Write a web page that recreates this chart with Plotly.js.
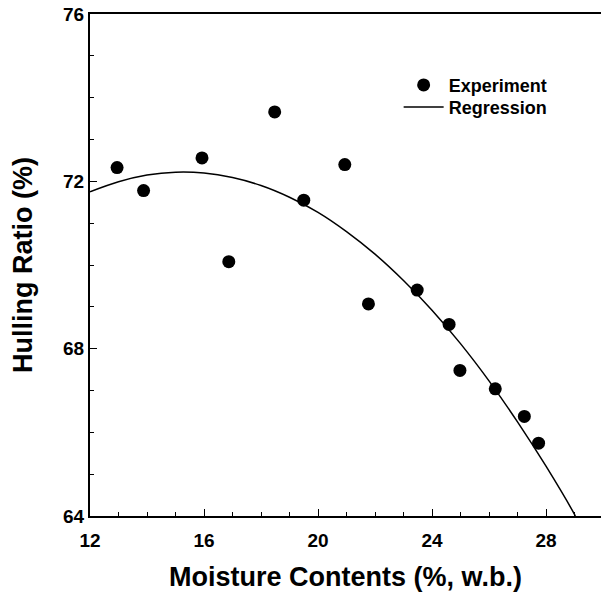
<!DOCTYPE html>
<html>
<head>
<meta charset="utf-8">
<script src="https://cdn.plot.ly/plotly-3.0.1.min.js"></script>
<style>html,body{margin:0;padding:0;background:#fff;}#chart{width:601px;height:599px;}</style>
</head>
<body>
<div id="chart"></div>
<script>
// Experiment points
var expX = [12.95, 13.88, 15.93, 16.87, 18.48, 19.50, 20.94, 21.77, 23.48, 24.60, 24.98, 26.22, 27.24, 27.74];
var expY = [72.33, 71.78, 72.56, 70.08, 73.66, 71.55, 72.40, 69.07, 69.40, 68.58, 67.48, 67.04, 66.38, 65.74];
// Regression curve
var regX = [12, 13, 14, 15, 16, 17, 18, 19, 20, 21, 22, 23, 24, 25, 26, 27, 28, 29, 29.03];
var regY = [71.75, 71.99, 72.15, 72.22, 72.20, 72.09, 71.90, 71.62, 71.26, 70.80, 70.26, 69.63, 68.92, 68.12, 67.23, 66.25, 65.19, 64.04, 64.0];
var xTicks = [12, 16, 20, 24, 28];
var yTicks = [64, 68, 72, 76];

var fontFam = 'Liberation Sans, Arial, sans-serif';
var legFont = {family: fontFam, size: 18, color: '#000', weight: 'bold'};
var data = [
  {x: expX, y: expY, mode: 'markers', type: 'scatter', name: 'Experiment', legend: 'legend',
   marker: {color: '#000', size: 13}},
  {x: regX, y: regY, mode: 'lines', type: 'scatter', name: 'Regression', legend: 'legend2',
   line: {color: '#000', width: 1.5, shape: 'spline'}}
];
var layout = {
  width: 601, height: 599,
  margin: {l: 90, r: 0, t: 14, b: 83},
  paper_bgcolor: '#fff', plot_bgcolor: '#fff',
  showlegend: true,
  legend: {x: 0.604, y: 0.895, xanchor: 'left', yanchor: 'top', bgcolor: 'rgba(0,0,0,0)',
           itemwidth: 40, font: legFont},
  legend2: {x: 0.604, y: 0.851, xanchor: 'left', yanchor: 'top', bgcolor: 'rgba(0,0,0,0)',
           itemwidth: 40, font: legFont},
  xaxis: {
    range: [12, 29.93], tickvals: xTicks, ticktext: xTicks.map(String),
    showgrid: false, zeroline: false, showline: true, linecolor: '#000', linewidth: 2,
    mirror: true, ticks: 'inside', ticklen: 7, tickwidth: 1, tickcolor: '#000',
    minor: {dtick: 1, ticks: 'inside', ticklen: 4, tickwidth: 1, tickcolor: '#000'},
    ticklabelstandoff: 6,
    tickfont: {family: fontFam, size: 19, color: '#000', weight: 'bold'},
    title: {text: 'Moisture Contents (%, w.b.)', standoff: 17,
            font: {family: fontFam, size: 27, color: '#000', weight: 'bold'}}
  },
  yaxis: {
    range: [64, 76], tickvals: yTicks, ticktext: yTicks.map(String),
    showgrid: false, zeroline: false, showline: true, linecolor: '#000', linewidth: 2,
    ticks: 'inside', ticklen: 7, tickwidth: 1, tickcolor: '#000',
    minor: {dtick: 1, ticks: 'inside', ticklen: 4, tickwidth: 1, tickcolor: '#000'},
    tickfont: {family: fontFam, size: 19, color: '#000', weight: 'bold'},
    title: {text: 'Hulling Ratio (%)', standoff: 23,
            font: {family: fontFam, size: 27, color: '#000', weight: 'bold'}}
  }
};
Plotly.newPlot('chart', data, layout, {staticPlot: true, displayModeBar: false});
</script>
</body>
</html>
